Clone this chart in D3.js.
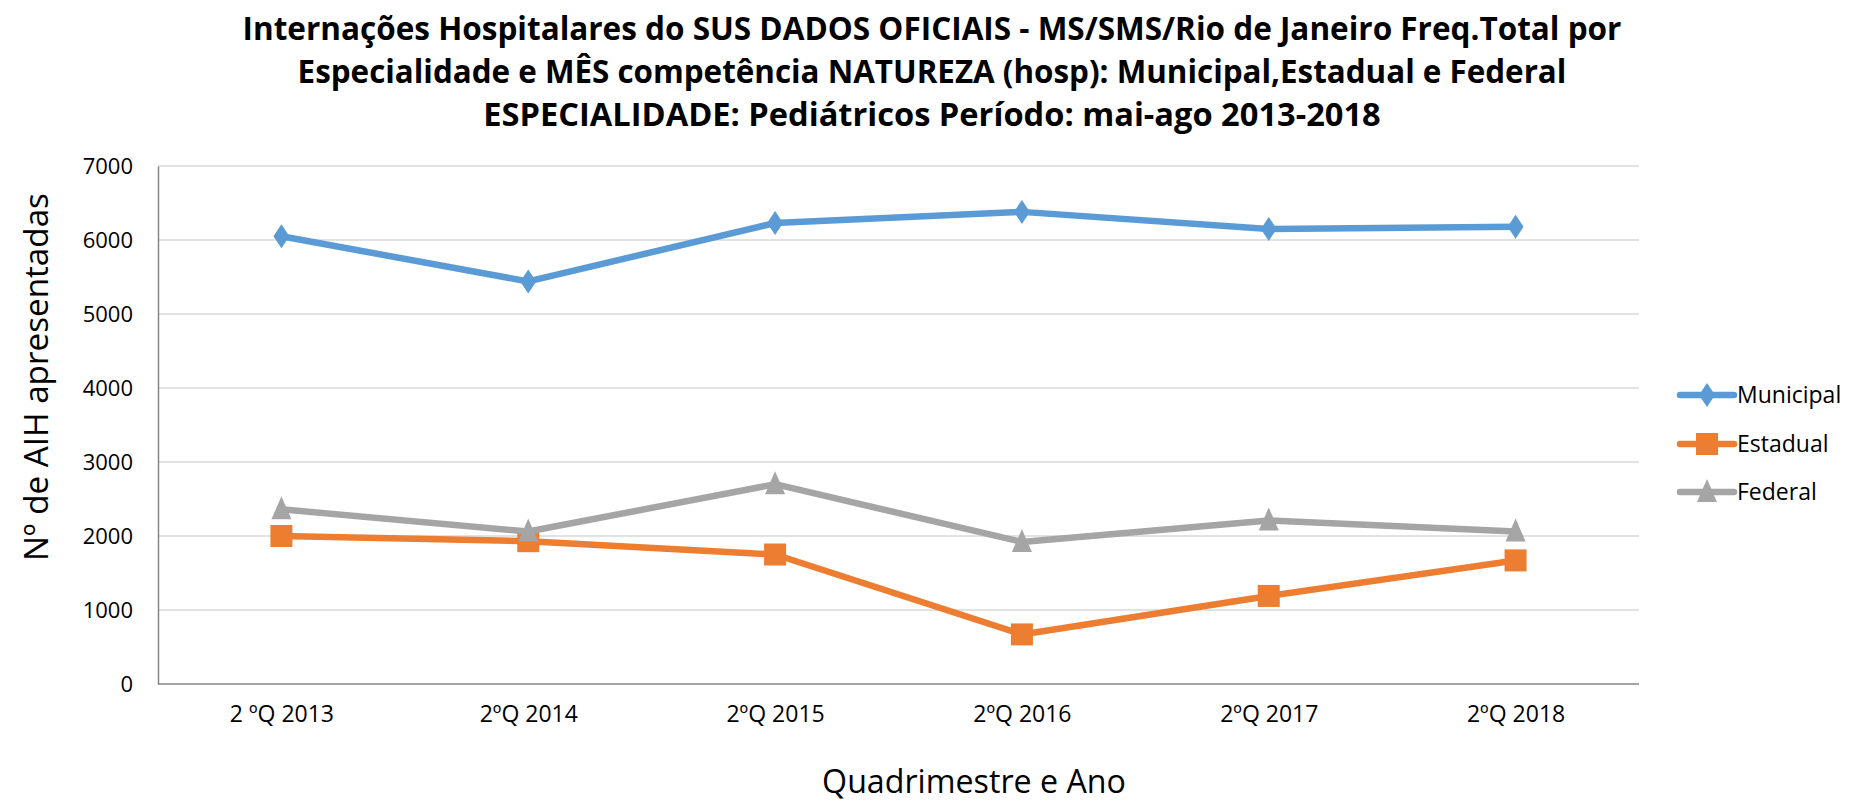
<!DOCTYPE html>
<html>
<head>
<meta charset="utf-8">
<script src="https://cdn.jsdelivr.net/npm/d3@7"></script>
<style>
  body { margin: 0; background: #fff; }
  text { font-family: "Open Sans", "Liberation Sans", sans-serif; fill: #000; }
</style>
</head>
<body>
<div id="chart"></div>
<script>
// chart data
const categories = ['2 ºQ 2013', '2ºQ 2014', '2ºQ 2015', '2ºQ 2016', '2ºQ 2017', '2ºQ 2018'];
const municipal = [6050, 5440, 6230, 6380, 6150, 6180];
const estadual = [2000, 1930, 1750, 670, 1190, 1670];
const federal = [2360, 2060, 2700, 1920, 2210, 2060];
const seriesNames = ['Municipal', 'Estadual', 'Federal'];
const yTicks = [0, 1000, 2000, 3000, 4000, 5000, 6000, 7000];
const titleLines = [
    'Internações Hospitalares do SUS DADOS OFICIAIS - MS/SMS/Rio de Janeiro Freq.Total por',
    'Especialidade e MÊS competência NATUREZA (hosp): Municipal,Estadual e Federal',
    'ESPECIALIDADE: Pediátricos Período: mai-ago 2013-2018'
];

const width = 1849;
const height = 806;
const plot = { left: 158, right: 1639, top: 166, bottom: 684 };

const colors = { Municipal: '#5B9BD5', Estadual: '#ED7D31', Federal: '#A5A5A5' };
const seriesValues = { Municipal: municipal, Estadual: estadual, Federal: federal };

const svg = d3.select('#chart')
    .append('svg')
    .attr('width', width)
    .attr('height', height);

// shrink or grow a text's font so it spans the given width
function fitWidth(sel, target) {
    const node = sel.node();
    const fs = parseFloat(sel.attr('font-size'));
    const w = node.getComputedTextLength();
    sel.attr('font-size', fs * target / w);
}

// title
const titleY = [40, 83, 126];
const titleW = [1379, 1269, 898];
titleLines.forEach((line, i) => {
    const t = svg.append('text')
        .attr('x', 932)
        .attr('y', titleY[i])
        .attr('text-anchor', 'middle')
        .attr('font-weight', 'bold')
        .attr('font-size', 28)
        .text(line);
    fitWidth(t, titleW[i]);
});

const x = d3.scalePoint()
    .domain(categories)
    .range([plot.left, plot.right])
    .padding(0.5);

const y = d3.scaleLinear()
    .domain([0, 7000])
    .range([plot.bottom, plot.top]);

// gridlines
svg.append('g')
    .selectAll('line')
    .data(yTicks.filter(d => d > 0))
    .enter()
    .append('line')
    .attr('x1', plot.left)
    .attr('x2', plot.right)
    .attr('y1', d => y(d))
    .attr('y2', d => y(d))
    .attr('stroke', '#d9d9d9')
    .attr('stroke-width', 1.5);

// y axis
const yAxis = svg.append('g')
    .attr('transform', `translate(${plot.left},0)`)
    .call(d3.axisLeft(y).tickValues(yTicks).tickSize(0).tickPadding(25).tickFormat(d3.format('d')));
yAxis.select('.domain').attr('stroke', '#868686').attr('stroke-width', 1.5);
yAxis.selectAll('text')
    .attr('font-size', 22)
    .attr('font-family', '"Open Sans", sans-serif')
    .attr('fill', '#000');

// x axis
const xAxis = svg.append('g')
    .attr('transform', `translate(0,${plot.bottom})`)
    .call(d3.axisBottom(x).tickSize(0).tickPadding(22));
xAxis.select('.domain')
    .attr('d', `M${plot.left},0H${plot.right}`)
    .attr('stroke', '#868686')
    .attr('stroke-width', 1.5);
xAxis.selectAll('text')
    .attr('font-size', 23)
    .attr('font-family', '"Open Sans", sans-serif')
    .attr('fill', '#000');

// axis titles
const yTitle = svg.append('text')
    .attr('transform', `translate(48,${377}) rotate(-90)`)
    .attr('text-anchor', 'middle')
    .attr('font-size', 28)
    .text('Nº de AIH apresentadas');
fitWidth(yTitle, 368);

const xTitle = svg.append('text')
    .attr('x', 974)
    .attr('y', 793)
    .attr('text-anchor', 'middle')
    .attr('font-size', 28)
    .text('Quadrimestre e Ano');
fitWidth(xTitle, 304);

// marker shapes
const markerPath = {
    Municipal: 'M0,-12L8,0L0,12L-8,0Z',
    Estadual: 'M-11,-11H11V11H-11Z',
    Federal: 'M0,-13L10,10H-10Z'
};

const line = d3.line()
    .x((d, i) => x(categories[i]))
    .y(d => y(d));

seriesNames.forEach(name => {
    const vals = seriesValues[name];
    const g = svg.append('g');
    g.append('path')
        .datum(vals)
        .attr('d', line)
        .attr('fill', 'none')
        .attr('stroke', colors[name])
        .attr('stroke-width', 6.5)
        .attr('stroke-linejoin', 'round');
    g.selectAll('path.marker')
        .data(vals)
        .enter()
        .append('path')
        .attr('class', 'marker')
        .attr('d', markerPath[name])
        .attr('transform', (d, i) => `translate(${x(categories[i])},${y(d)})`)
        .attr('fill', colors[name]);
});

// legend
const legendY = [395, 444, 492];
seriesNames.forEach((name, i) => {
    const g = svg.append('g').attr('transform', `translate(1680,${legendY[i]})`);
    g.append('line')
        .attr('x1', 0)
        .attr('x2', 54)
        .attr('stroke', colors[name])
        .attr('stroke-width', 6.5)
        .attr('stroke-linecap', 'round');
    g.append('path')
        .attr('d', markerPath[name])
        .attr('transform', 'translate(27,0)')
        .attr('fill', colors[name]);
    g.append('text')
        .attr('x', 57)
        .attr('y', 0)
        .attr('dy', '0.35em')
        .attr('font-size', 23)
        .text(name);
});
</script>
</body>
</html>
